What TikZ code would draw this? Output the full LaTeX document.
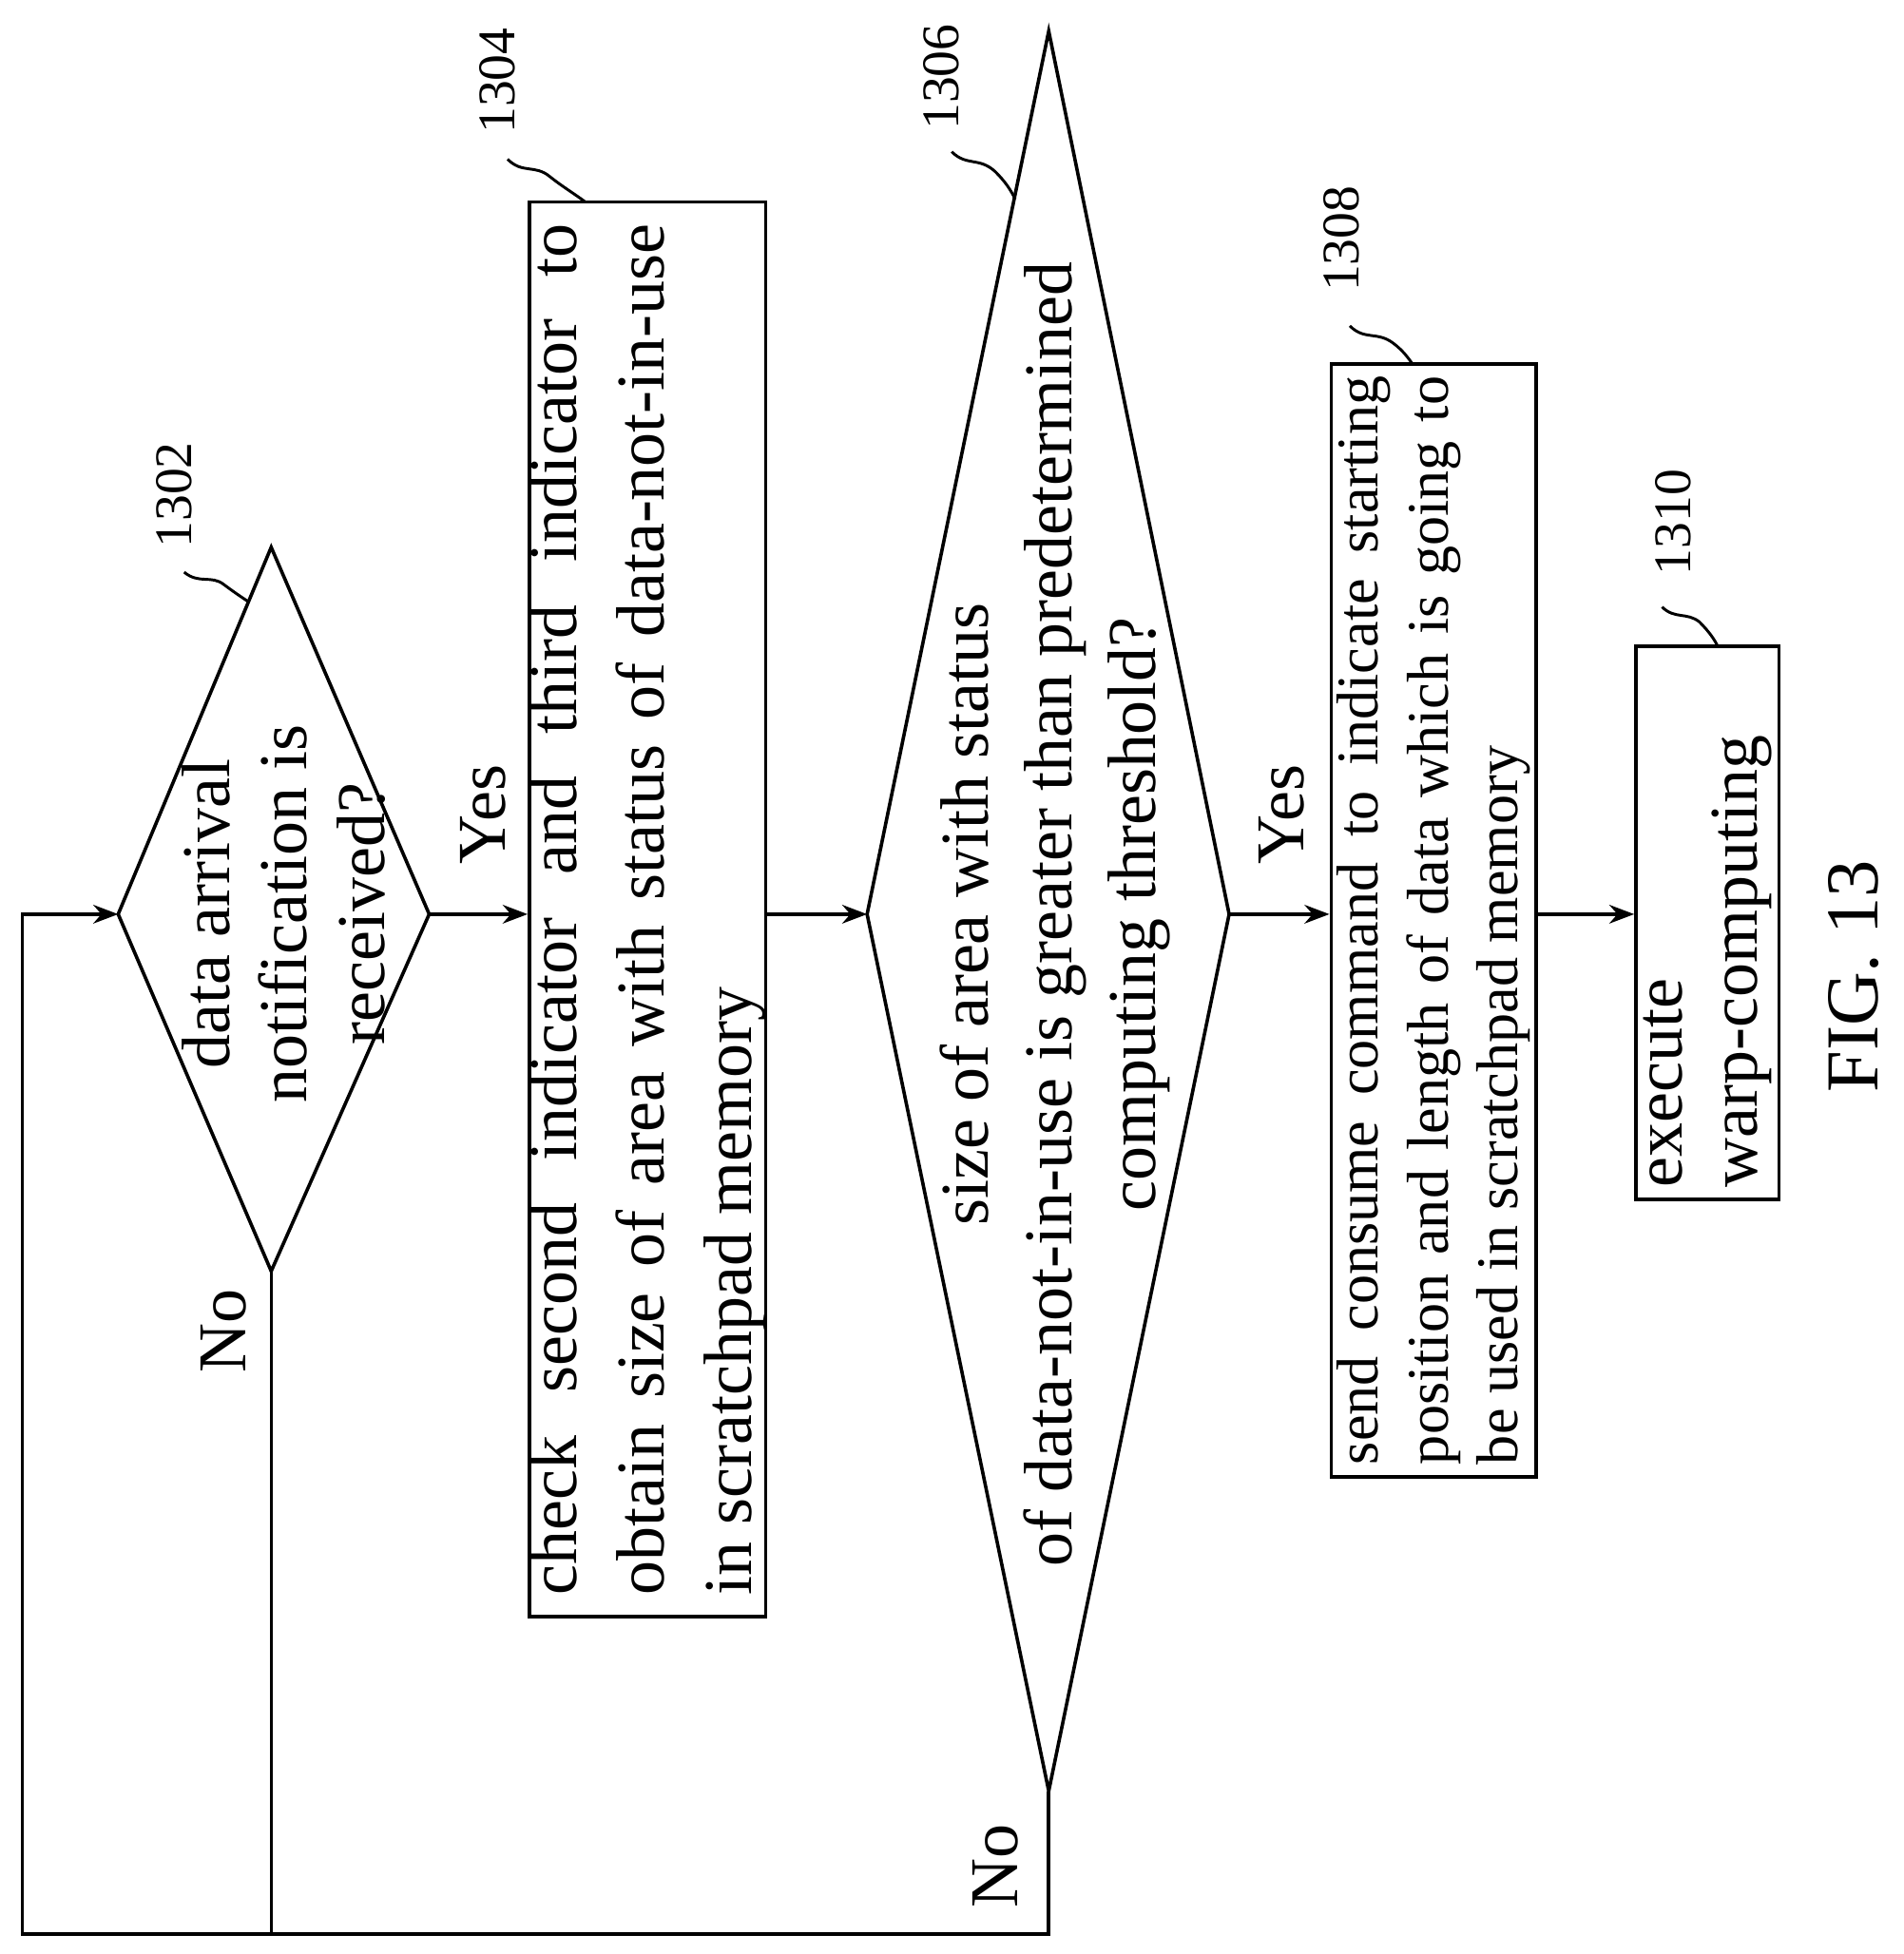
\documentclass[tikz,border=0pt]{standalone}
\usepackage{fontspec}
\setmainfont{Liberation Serif}
\usetikzlibrary{arrows.meta}
\begin{document}
\begin{tikzpicture}[x=0.4pt,y=-0.4pt,
  line width=1.1pt,
  arr/.style={-{Stealth[length=8pt,width=6pt]}},
  box/.style={draw,rotate=90,inner xsep=6pt,inner ysep=0pt,align=justify,font=\fontsize{22}{28}\selectfont},
  txt/.style={rotate=90,font=\fontsize{22}{26}\selectfont,align=center},
  lbl/.style={rotate=90,font=\fontsize{17}{20}\selectfont},
  lead/.style={line width=0.9pt}]
\useasboundingbox (0,0) rectangle (1530,1571);
% diamond 1302
\coordinate (d1l) at (95,735); \coordinate (d1r) at (345,735);
\coordinate (d1t) at (218,440); \coordinate (d1b) at (218,1022);
\draw (d1l)--(d1t)--(d1r)--(d1b)--cycle;
\node[txt,font=\fontsize{22}{25}\selectfont] (d1) at (228,735) {data arrival\\notification is\\received?};
% box 1304
\node[box,minimum width=455pt,minimum height=74pt,text width=441pt] (b1) at (520.5,731)
 {check second indicator and third indicator to\linebreak obtain size of area with status of data-not-in-use\linebreak in scratchpad memory};
% diamond 1306
\coordinate (d2l) at (697,735); \coordinate (d2r) at (988,735);
\coordinate (d2t) at (843,25); \coordinate (d2b) at (843,1440);
\draw (d2l)--(d2t)--(d2r)--(d2b)--cycle;
\node[txt,font=\fontsize{22}{27}\selectfont] (d2) at (848,735) {size of area with status\\of data-not-in-use is greater than predetermined\\computing threshold?};
% box 1308
\node[box,font=\fontsize{19}{22.5}\selectfont,minimum width=358pt,minimum height=66pt,text width=350pt,inner xsep=4pt] (b2) at (1152.5,740)
 {send consume command to indicate starting\linebreak position and length of data which is going to\linebreak be used in scratchpad memory};
% box 1310
\node[box,font=\fontsize{22}{24}\selectfont,minimum width=178pt,minimum height=46pt,text width=170pt,inner xsep=4pt,align=left] (b3) at (1372.5,742)
 {execute\\warp-computing};
% arrows
\draw[arr] (d1r) -- (d1r -| b1.north);
\draw[arr] (d2l -| b1.south) -- (d2l);
\draw[arr] (d2r) -- (d2r -| b2.north);
\draw[arr] (d2r -| b2.south) -- (d2r -| b3.north);
\coordinate (c1) at (18,1555); \coordinate (c2) at (218,1555); \coordinate (c3) at (843,1555);
\draw[arr] (d2b) -- (c3) -- (c1) -- (18,735) -- (d1l);
\draw (d1b) -- (c2);
% labels
\node[txt] (y1) at (388,655) {Yes};
\node[txt] (y2) at (1030,655) {Yes};
\node[txt] (n1) at (180,1070) {No};
\node[txt] (n2) at (800,1500) {No};
\node[lbl] (l1) at (140,398) {1302};
\node[lbl] (l2) at (400,65) {1304};
\node[lbl] (l3) at (757,62) {1306};
\node[lbl] (l4) at (1078,192) {1308};
\node[lbl] (l5) at (1345,420) {1310};
\draw[lead] (148,460) .. controls (160,470) and (170,462) .. (180,470) .. controls (188,476) and (194,480) .. (200,484);
\draw[lead] (408,128) .. controls (420,140) and (430,132) .. (442,142) .. controls (452,150) and (462,156) .. (470,162);
\draw[lead] (765,122) .. controls (777,134) and (787,126) .. (800,138) .. controls (808,146) and (812,152) .. (816,160);
\draw[lead] (1085,262) .. controls (1097,274) and (1107,266) .. (1120,276) .. controls (1128,282) and (1132,288) .. (1135,292);
\draw[lead] (1336,488) .. controls (1346,498) and (1356,492) .. (1366,500) .. controls (1374,508) and (1378,514) .. (1381,520);
\node[rotate=90,font=\fontsize{24}{30}\selectfont] (fig) at (1490,785) {FIG. 13};
\end{tikzpicture}
\end{document}
